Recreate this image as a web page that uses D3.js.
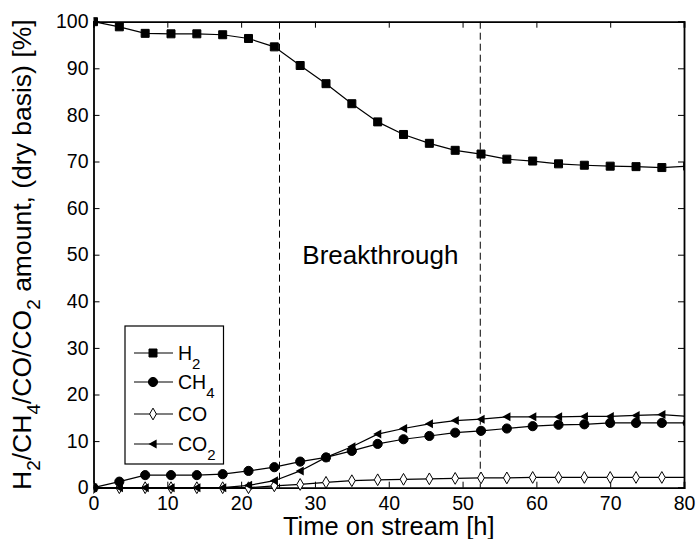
<!DOCTYPE html>
<html><head><meta charset="utf-8">
<script src="https://cdn.jsdelivr.net/npm/d3@7"></script>
<style>
body{margin:0;background:#fff;}
svg{display:block;font-family:"Liberation Sans",Arial,Helvetica,sans-serif;}
</style></head>
<body>
<svg id="chart" width="696" height="539"></svg>
<script>
// ---- data ----
const times = [0,3.5,7,10.5,14,17.5,21,24.5,28,31.5,35,38.5,42,45.5,49,52.5,56,59.5,63,66.5,70,73.5,77,80.5];
const h2  = [100,98.9,97.5,97.4,97.4,97.2,96.4,94.6,90.6,86.7,82.4,78.5,75.8,73.9,72.4,71.6,70.5,70.1,69.5,69.2,69.0,68.9,68.7,69.0];
const ch4 = [0,1.3,2.7,2.7,2.7,2.9,3.6,4.4,5.6,6.5,7.9,9.4,10.4,11.1,11.8,12.2,12.7,13.2,13.5,13.6,13.9,13.9,13.9,13.9];
const co  = [0,0,0,0,0,0,0,0.4,0.7,1.15,1.5,1.7,1.8,1.9,2.0,2.1,2.1,2.2,2.2,2.2,2.2,2.2,2.2,2.2];
const co2 = [0,0,0,0,0,0,0.5,1.5,3.6,6.5,8.8,11.5,12.7,13.7,14.4,14.7,15.2,15.2,15.2,15.3,15.3,15.5,15.7,15.3];
const xTicks = [0,10,20,30,40,50,60,70,80];
const yTicks = [0,10,20,30,40,50,60,70,80,90,100];
const breakthroughLines = [25.2, 52.4];
const seriesNames = ["H2","CH4","CO","CO2"];

// ---- layout ----
const svg = d3.select("#chart");
const margin = {left:93.5, right:12, top:21.7, bottom:51.3};
const W = 696, H = 539;
const iw = W - margin.left - margin.right, ih = H - margin.top - margin.bottom;
const x = d3.scaleLinear().domain([0,80]).range([0, iw]);
const y = d3.scaleLinear().domain([0,100]).range([ih, 0]);
const g = svg.append("g").attr("transform",`translate(${margin.left},${margin.top})`);

svg.append("defs").append("clipPath").attr("id","clip")
  .append("rect").attr("x",0).attr("y",-8).attr("width",iw).attr("height",ih+16);

// axes
const fs = "19.5px";
const axB = g.append("g").attr("transform",`translate(0,${ih})`)
  .call(d3.axisBottom(x).tickValues(xTicks).tickSize(-6).tickPadding(8.5).tickFormat(d3.format("d")));
const axL = g.append("g")
  .call(d3.axisLeft(y).tickValues(yTicks).tickSize(-6).tickPadding(5).tickFormat(d3.format("d")));
const axT = g.append("g")
  .call(d3.axisTop(x).tickValues(xTicks).tickSize(-6).tickFormat(""));
const axR = g.append("g").attr("transform",`translate(${iw},0)`)
  .call(d3.axisRight(y).tickValues(yTicks).tickSize(-6).tickFormat(""));
[axB,axL,axT,axR].forEach(a=>{
  a.selectAll("text").attr("font-size",fs).attr("fill","#000").attr("font-family","Liberation Sans, Arial, sans-serif");
  a.selectAll("line").attr("stroke","#000").attr("stroke-width",1);
  a.select(".domain").attr("stroke","#000").attr("stroke-width",1.8);
});

// breakthrough dashed lines
g.selectAll(".bt").data(breakthroughLines).enter().append("line")
  .attr("x1",d=>x(d)).attr("x2",d=>x(d)).attr("y1",0).attr("y2",ih)
  .attr("stroke","#000").attr("stroke-width",1).attr("stroke-dasharray","7,4");

svg.append("text").attr("x",380.4).attr("y",264)
  .attr("text-anchor","middle").attr("font-size","26px").text("Breakthrough");

// markers
const sym = {
  H2: {type:d3.symbolSquare, size:64, fill:"#000"},
  CH4:{type:d3.symbolCircle, size:66, fill:"#000"},
  CO: {type:d3.symbolDiamond, size:40, fill:"#fff"},
  CO2:{type:"tri", size:9, fill:"#000"}
};
function drawMarker(sel, name){
  const s = sym[name];
  if (s.type === "tri"){
    const a = s.size/2;
    sel.append("path").attr("d",`M${-a},0L${a*0.8},${-a}L${a*0.8},${a}Z`).attr("fill",s.fill);
  } else {
    sel.append("path").attr("d",d3.symbol().type(s.type).size(s.size)())
      .attr("fill",s.fill).attr("stroke","#000").attr("stroke-width",1);
  }
}

const dataSets = {H2:h2, CH4:ch4, CO:co, CO2:co2};
const plot = g.append("g").attr("clip-path","url(#clip)");
const line = d3.line().x(d=>x(d[0])).y(d=>y(d[1]));
["CO","CO2","CH4","H2"].forEach(name=>{
  const pts = times.map((t,i)=>[t, dataSets[name][i]]);
  plot.append("path").datum(pts).attr("d",line).attr("fill","none").attr("stroke","#000").attr("stroke-width",1.2);
  pts.forEach(p=>{
    const m = plot.append("g").attr("transform",`translate(${x(p[0])},${y(p[1])})`);
    drawMarker(m, name);
  });
});

// legend
const lg = svg.append("g");
lg.append("rect").attr("x",125).attr("y",326).attr("width",98.5).attr("height",138)
  .attr("fill","#fff").attr("stroke","#000").attr("stroke-width",1.2);
const legY = [353,382,414,444];
const legLabels = [["H","2"],["CH","4"],["CO",""],["CO","2"]];
seriesNames.forEach((name,i)=>{
  const yy = legY[i];
  lg.append("line").attr("x1",134).attr("x2",173).attr("y1",yy).attr("y2",yy).attr("stroke","#000").attr("stroke-width",1.2);
  const m = lg.append("g").attr("transform",`translate(153,${yy})`);
  drawMarker(m, name);
  const t = lg.append("text").attr("x",178).attr("y",yy+7).attr("font-size","19.5px");
  t.append("tspan").text(legLabels[i][0]);
  if (legLabels[i][1]) t.append("tspan").attr("dy",9).attr("font-size","15px").text(legLabels[i][1]);
});

// axis titles
svg.append("text").attr("x",margin.left+iw/2).attr("y",535).attr("text-anchor","middle")
  .attr("font-size","25.5px").text("Time on stream [h]");

const yt = svg.append("text").attr("transform",`translate(31,${margin.top+ih/2}) rotate(-90)`)
  .attr("text-anchor","middle").attr("font-size","26.5px");
const parts = [["H",0],["2",1],["/CH",0],["4",1],["/CO/CO",0],["2",1],[" amount, (dry basis) [%]",0]];
let prevSub = false;
parts.forEach(([txt,sub])=>{
  const ts = yt.append("tspan").text(txt);
  if (sub){ ts.attr("font-size","19px").attr("dy",9); prevSub=true; }
  else if (prevSub){ ts.attr("dy",-9); prevSub=false; }
});
</script>
</body></html>
